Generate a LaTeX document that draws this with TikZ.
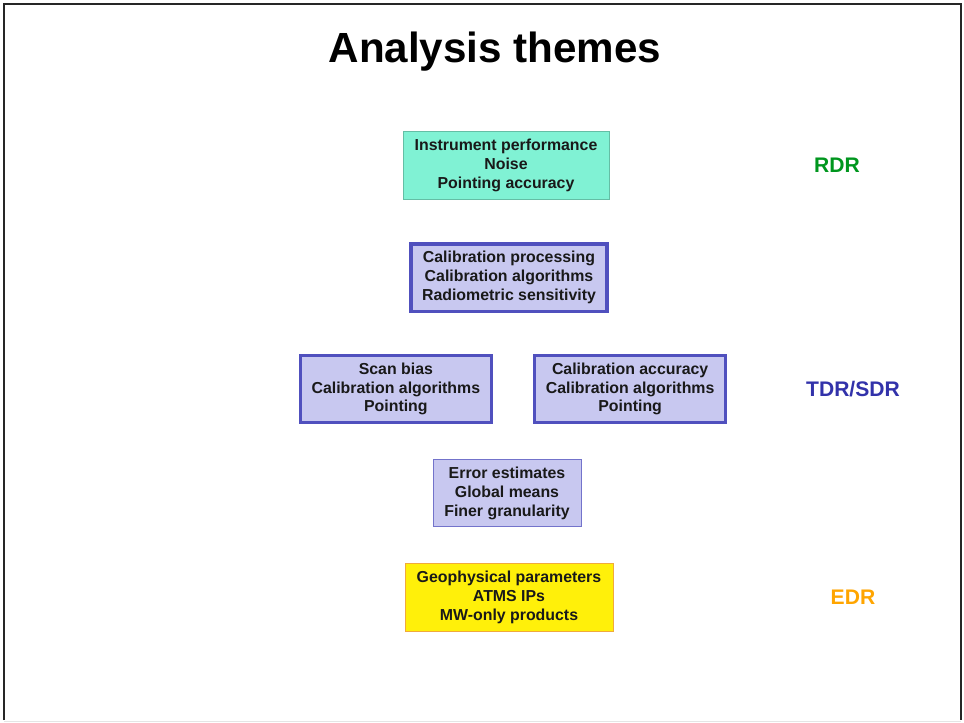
\documentclass[tikz,border=0pt]{standalone}
\usepackage{fontspec}
\setmainfont{Liberation Sans}
\usetikzlibrary{positioning}
\definecolor{RawFill}{RGB}{128,242,212}
\definecolor{RawEdge}{RGB}{100,190,165}
\definecolor{SensorFill}{RGB}{200,200,240}
\definecolor{SensorEdge}{RGB}{80,80,190}
\definecolor{EnvFill}{RGB}{255,240,10}
\definecolor{EnvEdge}{RGB}{240,170,60}
\definecolor{TierGreen}{RGB}{0,150,30}
\definecolor{TierBlue}{RGB}{50,50,170}
\definecolor{TierOrange}{RGB}{255,165,0}
\tikzset{
  theme/.style={align=center,inner sep=0pt,text=black!90,
    font=\fontsize{11.3}{13.5}\selectfont\bfseries},
  rawbox/.style={theme,draw=RawEdge,fill=RawFill,line width=0.7pt},
  sensorbox/.style={theme,draw=SensorEdge,fill=SensorFill,line width=2.2pt},
  thinsensorbox/.style={theme,draw=SensorEdge!80,fill=SensorFill,line width=0.7pt},
  envbox/.style={theme,draw=EnvEdge,fill=EnvFill,line width=0.7pt},
  tier/.style={inner sep=0pt,font=\fontsize{15}{18}\selectfont\bfseries}
}

\begin{document}
\begin{tikzpicture}[node distance=1.075cm]
  \useasboundingbox (0,0) rectangle (24.1,-18.075);
  % slide frame
  \draw[black!85,line width=1.5pt] (0.09,-18.0) |- (24.02,-0.09) -- (24.02,-18.0);
  \draw[black!10] (0.09,-18.02) -- (24.02,-18.02);

  \node[font=\fontsize{30}{36}\selectfont\bfseries] (title) at (12.375,-1.3) {Analysis themes};

  \node[rawbox,minimum width=5.15cm,minimum height=1.7cm] (instr) at (12.65,-4.125)
    {Instrument performance\\Noise\\Pointing accuracy};
  \node[sensorbox,minimum width=4.9cm,minimum height=1.68cm,below=1.075cm of instr,xshift=0.075cm] (calproc)
    {Calibration processing\\Calibration algorithms\\Radiometric sensitivity};
  \node[sensorbox,minimum width=4.78cm,minimum height=1.68cm,below left=1.025cm and 0.4cm of calproc.south] (scan)
    {Scan bias\\Calibration algorithms\\Pointing};
  \node[sensorbox,minimum width=4.78cm,minimum height=1.68cm,right=1cm of scan] (accur)
    {Calibration accuracy\\Calibration algorithms\\Pointing};
  \coordinate (mid) at (calproc.south |- scan.south);
  \node[thinsensorbox,minimum width=3.7cm,minimum height=1.675cm,below=0.875cm of mid,xshift=-0.05cm] (errest)
    {Error estimates\\Global means\\Finer granularity};
  \node[envbox,minimum width=5.2cm,minimum height=1.7cm,below=0.9cm of errest,xshift=0.05cm] (geo)
    {Geophysical parameters\\ATMS IPs\\MW-only products};

  % data levels on the right
  \node[tier,text=TierGreen] (rdr) at (instr -| 20.925,0) {RDR};
  \node[tier,text=TierBlue] (sdr) at (accur -| 21.325,0) {TDR/SDR};
  \node[tier,text=TierOrange] (edr) at (geo -| 21.325,0) {EDR};
\end{tikzpicture}
\end{document}
